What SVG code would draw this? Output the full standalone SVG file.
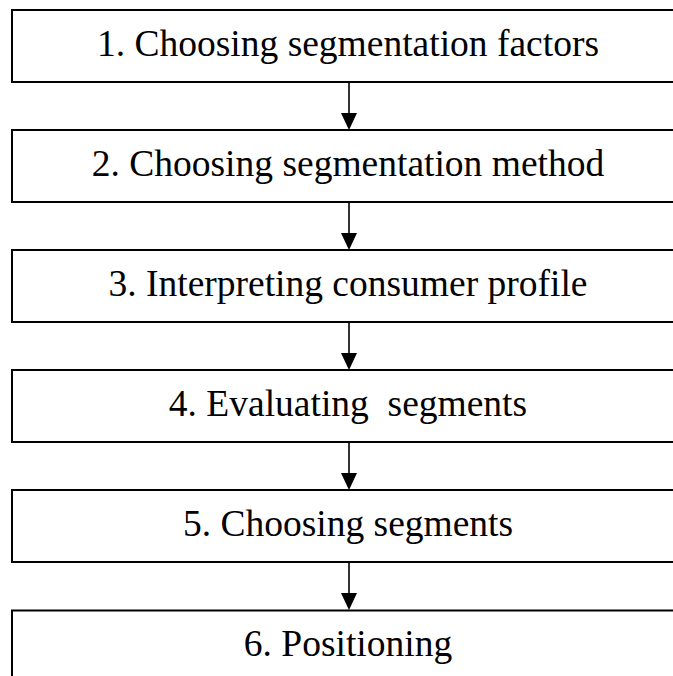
<svg xmlns="http://www.w3.org/2000/svg" width="673" height="676" viewBox="0 0 673 676">
<style>
.box{fill:#fff;stroke:#000;stroke-width:2}
.lbl{font-family:"Liberation Serif","Times New Roman",serif;font-size:37.5px;fill:#000;text-anchor:middle;white-space:pre}
.conn line{stroke:#000;stroke-width:1.6}
.conn polygon{fill:#000}
</style>
<rect width="673" height="676" fill="#fff"/>
<g id="node1"><rect class="box" x="12" y="10" width="690" height="72"/><text class="lbl" x="348" y="56">1. Choosing segmentation factors</text></g>
<g id="node2"><rect class="box" x="12" y="130" width="690" height="72"/><text class="lbl" x="348" y="176">2. Choosing segmentation method</text></g>
<g id="node3"><rect class="box" x="12" y="250" width="690" height="72"/><text class="lbl" x="348" y="296">3. Interpreting consumer profile</text></g>
<g id="node4"><rect class="box" x="12" y="370" width="690" height="72"/><text class="lbl" x="348" y="416" xml:space="preserve">4. Evaluating  segments</text></g>
<g id="node5"><rect class="box" x="12" y="490" width="690" height="72"/><text class="lbl" x="348" y="536">5. Choosing segments</text></g>
<g id="node6"><rect class="box" x="12" y="610.5" width="690" height="80"/><text class="lbl" x="348" y="656">6. Positioning</text></g>
<g id="connectors" class="conn">
<line x1="349" y1="82" x2="349" y2="116"/><polygon points="341,113 357,113 349,130"/>
<line x1="349" y1="202" x2="349" y2="236"/><polygon points="341,233 357,233 349,250"/>
<line x1="349" y1="322" x2="349" y2="356"/><polygon points="341,353 357,353 349,370"/>
<line x1="349" y1="442" x2="349" y2="476"/><polygon points="341,473 357,473 349,490"/>
<line x1="349" y1="562" x2="349" y2="596"/><polygon points="341,593 357,593 349,610"/>
</g>
</svg>
